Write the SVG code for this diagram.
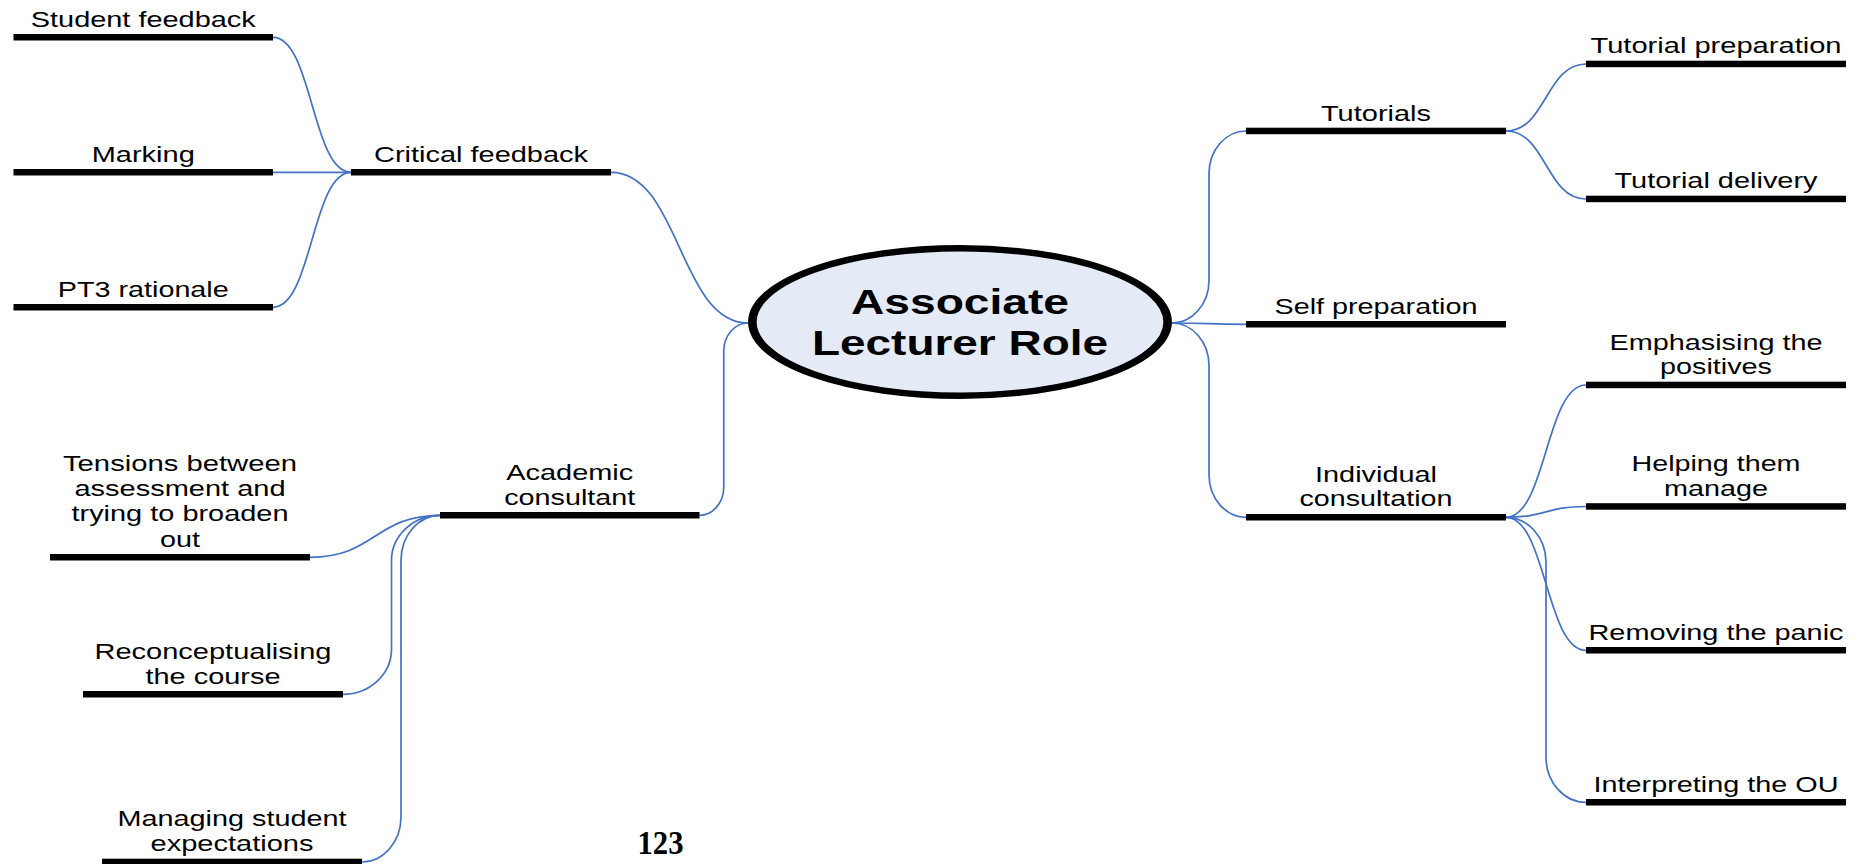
<svg xmlns="http://www.w3.org/2000/svg" width="1859" height="864" viewBox="0 0 1859 864">
<style>
.bar{fill:#000}
.t{font-family:"Liberation Sans",Arial,sans-serif;font-size:21.5px;fill:#000;text-anchor:middle}
.title{font-family:"Liberation Sans",Arial,sans-serif;font-size:34.5px;font-weight:bold;fill:#000;text-anchor:middle}
.pn{font-family:"Liberation Serif","Times New Roman",serif;font-size:33px;font-weight:bold;fill:#000;text-anchor:middle}
#connectors path{fill:none;stroke:#4472C4;stroke-width:1.7}
</style>
<rect width="1859" height="864" fill="#fff"/>
<g id="connectors">
<path d="M273,37.3 C312,37.3 312,172.3 351,172.3"/>
<path d="M273,172.3 L351,172.3"/>
<path d="M273,307.3 C312,307.3 312,172.3 351,172.3"/>
<path d="M611,172.3 C679.5,172.3 679.5,323 748,323"/>
<path d="M748,323 C734.7,323 723.75,335.6 723.75,351 L723.75,487.3 C723.75,502.7 712.8,515.3 699.5,515.3"/>
<path d="M1172,323 C1192.35,323 1209,303.9 1209,280.5 L1209,173.5 C1209,150.1 1225.65,131 1246,131"/>
<path d="M1172,323 C1209,323 1209,324.3 1246,324.3"/>
<path d="M1172,323 C1192.35,323 1209,342.1 1209,365.5 L1209,474.8 C1209,498.2 1225.65,517.3 1246,517.3"/>
<path d="M1506,131 C1546,131 1546,64 1586,64"/>
<path d="M1506,131 C1546,131 1546,199 1586,199"/>
<path d="M1506,517.3 C1546,517.3 1546,385 1586,385"/>
<path d="M1506,517.3 C1546,517.3 1546,506.5 1586,506.5"/>
<path d="M1506,517.3 C1546,517.3 1546,650.3 1586,650.3"/>
<path d="M1506,517.3 C1528,517.3 1546,537.55 1546,562.3 L1546,757.3 C1546,782.05 1564,802.3 1586,802.3"/>
<path d="M440,515.3 C375,515.3 375,557.3 310,557.3"/>
<path d="M440,515.3 C413.3,515.3 391.5,535.55 391.5,560.3 L391.5,649.3 C391.5,674.05 369.7,694.3 343,694.3"/>
<path d="M440,515.3 C418.55,515.3 401,535.55 401,560.3 L401,817 C401,841.75 383.45,862 362,862"/>
</g>
<g id="center">
<ellipse cx="0" cy="0" rx="157.3" ry="73.75" transform="translate(960,322) scale(1.32,1)" fill="#E4EAF6" stroke="#000" stroke-width="6.5"/>
<text class="title" x="960" y="314" textLength="218" lengthAdjust="spacingAndGlyphs">Associate</text>
<text class="title" x="960" y="355" textLength="296" lengthAdjust="spacingAndGlyphs">Lecturer Role</text>
</g>
<g id="student-feedback">
<rect class="bar" x="13.5" y="34" width="259.5" height="6.5"/>
<text class="t" x="143.25" y="26.7" textLength="225" lengthAdjust="spacingAndGlyphs">Student feedback</text>
</g>
<g id="marking">
<rect class="bar" x="13.5" y="169" width="259.5" height="6.5"/>
<text class="t" x="143.25" y="161.7" textLength="103" lengthAdjust="spacingAndGlyphs">Marking</text>
</g>
<g id="pt3-rationale">
<rect class="bar" x="13.5" y="304" width="259.5" height="6.5"/>
<text class="t" x="143.25" y="296.5" textLength="171" lengthAdjust="spacingAndGlyphs">PT3 rationale</text>
</g>
<g id="critical-feedback">
<rect class="bar" x="351" y="169" width="260" height="6.5"/>
<text class="t" x="481" y="161.7" textLength="214" lengthAdjust="spacingAndGlyphs">Critical feedback</text>
</g>
<g id="academic-consultant">
<rect class="bar" x="440" y="512" width="259.5" height="6.5"/>
<text class="t" x="569.75" y="479.5" textLength="127" lengthAdjust="spacingAndGlyphs">Academic</text>
<text class="t" x="569.75" y="504.5" textLength="131" lengthAdjust="spacingAndGlyphs">consultant</text>
</g>
<g id="tensions">
<rect class="bar" x="50" y="554" width="260" height="6.5"/>
<text class="t" x="180" y="470.7" textLength="234" lengthAdjust="spacingAndGlyphs">Tensions between</text>
<text class="t" x="180" y="495.9" textLength="211" lengthAdjust="spacingAndGlyphs">assessment and</text>
<text class="t" x="180" y="521.2" textLength="217" lengthAdjust="spacingAndGlyphs">trying to broaden</text>
<text class="t" x="180" y="546.5" textLength="40" lengthAdjust="spacingAndGlyphs">out</text>
</g>
<g id="reconceptualising">
<rect class="bar" x="83" y="691" width="260" height="6.5"/>
<text class="t" x="213" y="659.3" textLength="237" lengthAdjust="spacingAndGlyphs">Reconceptualising</text>
<text class="t" x="213" y="684.3" textLength="135" lengthAdjust="spacingAndGlyphs">the course</text>
</g>
<g id="managing">
<rect class="bar" x="102" y="858.7" width="260" height="6.5"/>
<text class="t" x="232" y="825.7" textLength="229" lengthAdjust="spacingAndGlyphs">Managing student</text>
<text class="t" x="232" y="851.3" textLength="163" lengthAdjust="spacingAndGlyphs">expectations</text>
</g>
<g id="tutorials">
<rect class="bar" x="1246" y="127.7" width="260" height="6.5"/>
<text class="t" x="1376" y="120.5" textLength="110" lengthAdjust="spacingAndGlyphs">Tutorials</text>
</g>
<g id="tutorial-preparation">
<rect class="bar" x="1586" y="60.7" width="260" height="6.5"/>
<text class="t" x="1716" y="53.3" textLength="251" lengthAdjust="spacingAndGlyphs">Tutorial preparation</text>
</g>
<g id="tutorial-delivery">
<rect class="bar" x="1586" y="195.7" width="260" height="6.5"/>
<text class="t" x="1716" y="188.3" textLength="203" lengthAdjust="spacingAndGlyphs">Tutorial delivery</text>
</g>
<g id="self-preparation">
<rect class="bar" x="1246" y="321" width="260" height="6.5"/>
<text class="t" x="1376" y="313.5" textLength="203" lengthAdjust="spacingAndGlyphs">Self preparation</text>
</g>
<g id="individual-consultation">
<rect class="bar" x="1246" y="514" width="260" height="6.5"/>
<text class="t" x="1376" y="481.7" textLength="122" lengthAdjust="spacingAndGlyphs">Individual</text>
<text class="t" x="1376" y="506.3" textLength="153" lengthAdjust="spacingAndGlyphs">consultation</text>
</g>
<g id="emphasising">
<rect class="bar" x="1586" y="381.7" width="260" height="6.5"/>
<text class="t" x="1716" y="350" textLength="213" lengthAdjust="spacingAndGlyphs">Emphasising the</text>
<text class="t" x="1716" y="374.2" textLength="112" lengthAdjust="spacingAndGlyphs">positives</text>
</g>
<g id="helping">
<rect class="bar" x="1586" y="503.2" width="260" height="6.5"/>
<text class="t" x="1716" y="471" textLength="169" lengthAdjust="spacingAndGlyphs">Helping them</text>
<text class="t" x="1716" y="495.7" textLength="104" lengthAdjust="spacingAndGlyphs">manage</text>
</g>
<g id="removing">
<rect class="bar" x="1586" y="647" width="260" height="6.5"/>
<text class="t" x="1716" y="639.5" textLength="255" lengthAdjust="spacingAndGlyphs">Removing the panic</text>
</g>
<g id="interpreting">
<rect class="bar" x="1586" y="799" width="260" height="6.5"/>
<text class="t" x="1716" y="791.7" textLength="245" lengthAdjust="spacingAndGlyphs">Interpreting the OU</text>
</g>
<text class="pn" x="660.5" y="854" textLength="46" lengthAdjust="spacingAndGlyphs">123</text>
</svg>
